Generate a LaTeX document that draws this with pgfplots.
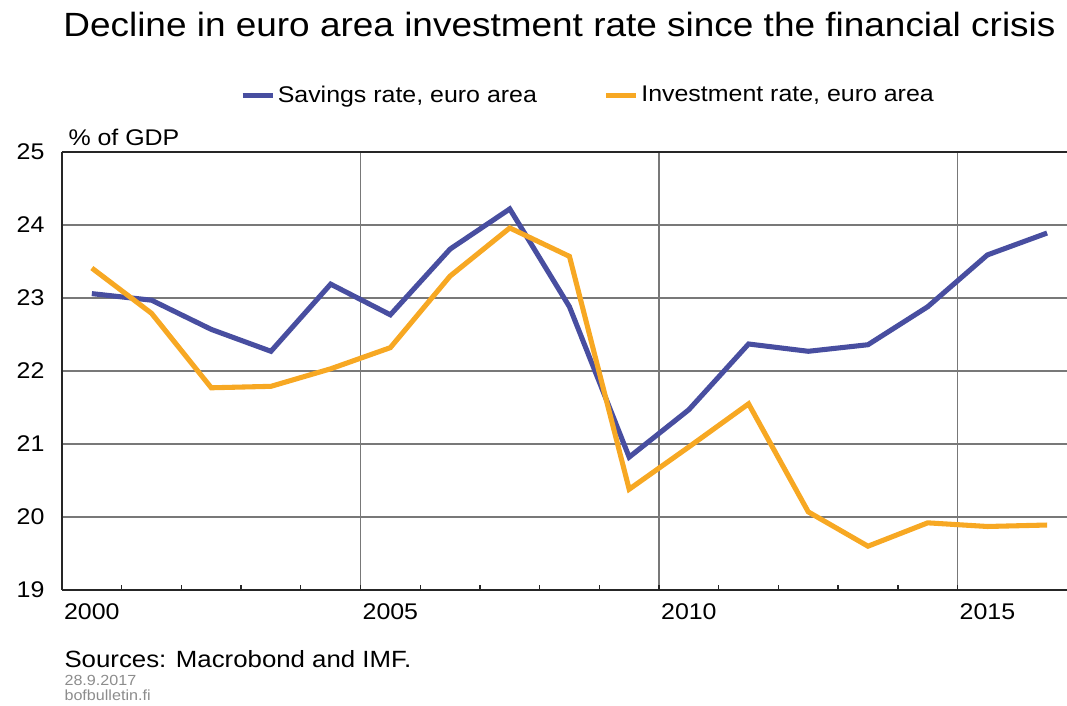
\documentclass[border=0pt]{standalone}
\usepackage{fontspec}
\setmainfont{Liberation Sans}[FakeStretch=1.1]
\usepackage{pgfplots}
\pgfplotsset{compat=1.18}
\definecolor{savblue}{RGB}{72,78,160}
\definecolor{invorange}{RGB}{247,168,35}
\definecolor{gridgray}{RGB}{120,120,120}
\definecolor{notegray}{RGB}{140,140,140}

\begin{document}
\begin{tikzpicture}[x=1pt,y=1pt]
% page = reference frame, axis corner at the origin
\path[use as bounding box] (-23.25pt,-43.5pt) rectangle (376.875pt,221.25pt);
\begin{axis}[
    at={(0pt,0pt)}, anchor=south west,
    scale only axis,
    width=380.6pt, height=164.25pt,
    xmin=2000, xmax=2017,
    ymin=19, ymax=25,
    axis x line=box, axis y line=left,
    axis line style={-, draw=black!85, line width=0.7pt},
    xtick={2000,2005,2010,2015},
    xticklabels={2000,2005,2010,2015},
    minor x tick num=4,
    xtick pos=bottom,
    tick align=inside,
    major tick length=1.9pt, minor tick length=1.9pt,
    x tick style={draw=black!85, line width=0.5pt},
    ytick={19,20,...,25},
    y tick style={draw=none},
    ymajorgrids=true, xmajorgrids=true,
    major grid style={draw=gridgray, line width=0.55pt},
    /pgf/number format/assume math mode=true,
    tick label style={font=\fontsize{8.5}{10}\selectfont},
    x tick label style={inner sep=0pt, anchor=north, xshift=11.2pt, yshift=-4.9pt},
    y tick label style={inner sep=0pt, anchor=east, xshift=-6.4pt},
    legend columns=2,
    legend style={draw=none, fill=none, at={(0.5185,1.128)}, anchor=center,
        font=\fontsize{8.5}{10}\selectfont,
        /tikz/every even column/.append style={column sep=24pt},
        nodes={inner xsep=1pt, inner ysep=1pt}},
    legend cell align=left,
    legend image code/.code={\draw[#1] (0pt,0pt) -- (11.25pt,0pt);},
    clip=false,
]
\addplot[savblue, line width=1.9pt] coordinates {
    (2000.5,23.06)(2001.5,22.97)(2002.5,22.57)(2003.5,22.27)(2004.5,23.19)
    (2005.5,22.77)(2006.5,23.67)(2007.5,24.22)(2008.5,22.88)(2009.5,20.82)
    (2010.5,21.47)(2011.5,22.37)(2012.5,22.27)(2013.5,22.36)(2014.5,22.88)
    (2015.5,23.59)(2016.5,23.89)
};
\addplot[invorange, line width=1.9pt] coordinates {
    (2000.5,23.41)(2001.5,22.79)(2002.5,21.77)(2003.5,21.79)(2004.5,22.03)
    (2005.5,22.32)(2006.5,23.30)(2007.5,23.96)(2008.5,23.57)(2009.5,20.38)
    (2010.5,20.96)(2011.5,21.55)(2012.5,20.07)(2013.5,19.60)(2014.5,19.92)
    (2015.5,19.87)(2016.5,19.89)
};
\legend{{Savings rate, euro area}, {Investment rate, euro area}}
\node[anchor=base west, inner sep=0pt, font=\fontsize{8.5}{10}\selectfont,
    xshift=2.25pt, yshift=2.6pt] at (rel axis cs:0,1) {\% of GDP};
\end{axis}
\node[anchor=base west, inner sep=0pt, font=\fontsize{12.6}{15}\selectfont]
    at (0.3pt,207.4pt) {Decline in euro area investment rate since the financial crisis};
\node[anchor=base west, inner sep=0pt, font=\fontsize{8.8}{10}\selectfont]
    at (0.75pt,-28.9pt) {Sources: Macrobond and IMF.};
\node[anchor=base west, inner sep=0pt, text=notegray, font=\fontsize{5.5}{6.5}\selectfont]
    at (0.75pt,-36pt) {28.9.2017};
\node[anchor=base west, inner sep=0pt, text=notegray, font=\fontsize{5.5}{6.5}\selectfont]
    at (0.75pt,-41.6pt) {bofbulletin.fi};
\end{tikzpicture}
\end{document}
